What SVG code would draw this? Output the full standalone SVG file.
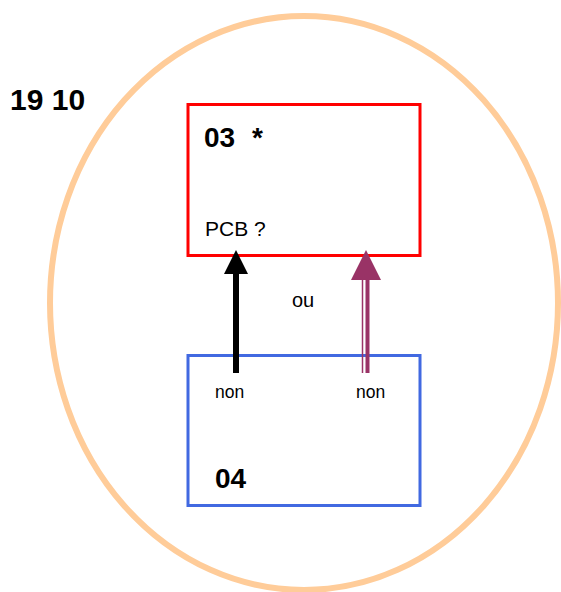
<svg xmlns="http://www.w3.org/2000/svg" width="561" height="592" viewBox="0 0 561 592">
<style>
.b{font-family:"Liberation Sans",Arial,sans-serif;font-weight:bold;fill:#000}
.r{font-family:"Liberation Sans",Arial,sans-serif;fill:#000}
</style>
<rect width="561" height="592" fill="#fff"/>
<g id="boundary">
<ellipse cx="304" cy="303" rx="254" ry="287" fill="none" stroke="#FFCC99" stroke-width="6"/>
</g>
<text id="title" class="b" x="10" y="110" font-size="30">19 10</text>
<g id="node03">
<rect x="188" y="104.5" width="232" height="151" fill="none" stroke="#FF0000" stroke-width="3"/>
<text class="b" x="204" y="147" font-size="28">03</text>
<text class="b" x="252" y="147" font-size="28">*</text>
<text class="r" x="205" y="236" font-size="21">PCB ?</text>
</g>
<g id="node04">
<rect x="188" y="355.5" width="232" height="150" fill="none" stroke="#4169E1" stroke-width="3"/>
<text class="b" x="215" y="488" font-size="28">04</text>
<text class="r" x="215" y="398" font-size="17.5">non</text>
<text class="r" x="356" y="398" font-size="17.5">non</text>
</g>
<g id="connectors">
<line x1="236" y1="373" x2="236" y2="272" stroke="#000" stroke-width="6"/>
<polygon points="224,274 248,274 236,250" fill="#000"/>
<line x1="362.5" y1="373" x2="362.5" y2="278" stroke="#993366" stroke-width="1.5"/>
<line x1="367.5" y1="373" x2="367.5" y2="278" stroke="#993366" stroke-width="4"/>
<polygon points="351,280 381,280 366,250" fill="#993366"/>
<text class="r" x="292" y="307" font-size="20">ou</text>
</g>
</svg>
